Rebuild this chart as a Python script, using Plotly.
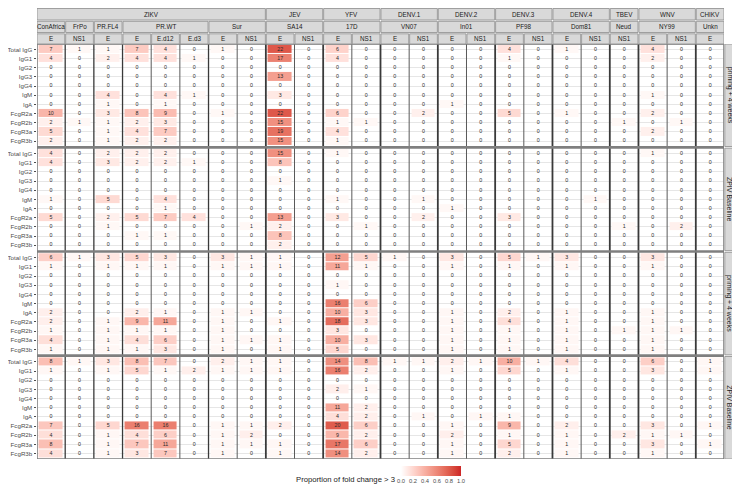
import plotly.graph_objects as go

# ---- data -------------------------------------------------------------
antibodies = ["Total IgG", "IgG1", "IgG2", "IgG3", "IgG4", "IgM", "IgA",
              "FcgR2a", "FcgR2b", "FcgR3a", "FcgR3b"]

virus = ["ZIKV"] * 8 + ["JEV"] * 2 + ["YFV"] * 2 + ["DENV.1"] * 2 + ["DENV.2"] * 2 + \
        ["DENV.3"] * 2 + ["DENV.4"] * 2 + ["TBEV"] + ["WNV"] * 2 + ["CHIKV"]
strain = ["ConAfrica", "FrPo", "PR.FL4", "PR.WT", "PR.WT", "PR.WT", "Sur", "Sur",
          "SA14", "SA14", "17D", "17D", "VN07", "VN07", "In01", "In01",
          "PF98", "PF98", "Dom81", "Dom81", "Neud", "NY99", "NY99", "Unkn"]
antigen = ["E", "NS1", "E", "E", "E.d12", "E.d3", "E", "NS1",
           "E", "NS1", "E", "NS1", "E", "NS1", "E", "NS1",
           "E", "NS1", "E", "NS1", "NS1", "E", "NS1", "E"]

groups = ["JEV-Primed", "YFV-Primed"]
timepoints = ["priming + 4 weeks", "ZPIV Baseline", "priming + 4 weeks", "ZPIV Baseline"]
group_size = [27, 27, 25, 25]   # animals per panel (colour = count / size)

# counts of fold change > 3 (rows = antibodies, cols = antigens)
jev_week4 = [
    [7, 1, 1, 7, 4, 0, 1, 0, 22, 0, 6, 0, 0, 0, 0, 0, 4, 0, 1, 0, 0, 4, 0, 0],
    [4, 0, 2, 4, 4, 1, 0, 0, 17, 0, 4, 0, 0, 0, 0, 0, 1, 0, 0, 0, 0, 2, 0, 0],
    [0, 0, 0, 0, 0, 0, 0, 0, 0, 0, 0, 0, 0, 0, 0, 0, 0, 0, 0, 0, 0, 0, 0, 0],
    [0, 0, 0, 0, 0, 0, 0, 0, 13, 0, 0, 0, 0, 0, 0, 0, 0, 0, 0, 0, 0, 0, 0, 0],
    [0, 0, 0, 0, 0, 0, 0, 0, 0, 0, 0, 0, 0, 0, 0, 0, 0, 0, 0, 0, 0, 0, 0, 0],
    [0, 0, 4, 0, 4, 1, 0, 0, 3, 0, 0, 0, 0, 0, 0, 0, 0, 0, 0, 0, 0, 1, 0, 0],
    [0, 0, 1, 0, 1, 0, 0, 0, 0, 0, 0, 0, 0, 0, 1, 0, 0, 0, 0, 0, 0, 0, 0, 0],
    [10, 0, 3, 8, 9, 0, 1, 0, 22, 0, 6, 0, 0, 2, 0, 0, 5, 0, 1, 0, 0, 2, 0, 0],
    [2, 1, 1, 2, 3, 0, 0, 0, 15, 0, 1, 1, 0, 0, 0, 0, 0, 0, 0, 0, 1, 0, 1, 0],
    [5, 0, 1, 4, 7, 0, 0, 0, 19, 0, 4, 0, 0, 0, 0, 0, 0, 0, 0, 0, 0, 2, 0, 0],
    [2, 0, 1, 2, 2, 0, 0, 0, 15, 0, 1, 0, 0, 0, 0, 0, 0, 0, 0, 0, 0, 0, 0, 0],
]
jev_baseline = [
    [4, 0, 2, 2, 2, 0, 0, 0, 15, 0, 1, 0, 0, 0, 0, 0, 0, 0, 0, 0, 0, 1, 0, 0],
    [4, 0, 3, 2, 2, 1, 0, 0, 8, 0, 0, 0, 0, 0, 0, 0, 0, 0, 0, 0, 0, 0, 0, 0],
    [0, 0, 0, 0, 0, 0, 0, 0, 0, 0, 0, 0, 0, 0, 0, 0, 0, 0, 0, 0, 0, 0, 0, 0],
    [0, 0, 0, 0, 0, 0, 0, 0, 1, 0, 0, 0, 0, 0, 0, 0, 0, 0, 0, 0, 0, 0, 0, 0],
    [0, 0, 0, 0, 0, 0, 0, 0, 0, 0, 0, 0, 0, 0, 0, 0, 0, 0, 0, 0, 0, 0, 0, 0],
    [1, 0, 5, 0, 4, 0, 0, 0, 0, 0, 1, 0, 0, 1, 0, 0, 0, 0, 0, 1, 0, 0, 0, 0],
    [0, 0, 0, 0, 1, 0, 0, 0, 0, 0, 0, 0, 0, 0, 1, 0, 0, 0, 0, 0, 0, 0, 0, 0],
    [5, 0, 2, 5, 7, 4, 0, 0, 13, 0, 3, 0, 0, 2, 0, 0, 3, 0, 0, 0, 0, 0, 0, 0],
    [0, 0, 1, 0, 0, 0, 0, 1, 2, 0, 0, 1, 0, 0, 0, 0, 0, 0, 0, 0, 1, 0, 2, 0],
    [0, 0, 0, 1, 1, 0, 0, 0, 8, 0, 0, 0, 0, 0, 0, 0, 0, 0, 0, 0, 0, 0, 0, 0],
    [0, 0, 0, 0, 0, 0, 0, 0, 2, 0, 0, 0, 0, 0, 0, 0, 0, 0, 0, 0, 0, 0, 0, 0],
]
yfv_week4 = [
    [6, 1, 3, 5, 3, 0, 3, 1, 1, 0, 12, 5, 1, 0, 3, 0, 5, 1, 3, 0, 0, 3, 0, 0],
    [1, 0, 1, 1, 1, 0, 1, 1, 1, 0, 11, 1, 0, 0, 1, 0, 1, 0, 1, 0, 0, 1, 0, 0],
    [0, 0, 0, 0, 0, 0, 0, 0, 0, 0, 0, 0, 0, 0, 0, 0, 0, 0, 0, 0, 0, 0, 0, 0],
    [0, 0, 0, 0, 0, 0, 0, 0, 0, 0, 1, 0, 0, 0, 0, 0, 0, 0, 0, 0, 0, 0, 0, 0],
    [0, 0, 0, 0, 0, 0, 0, 0, 0, 0, 0, 0, 0, 0, 0, 0, 0, 0, 0, 0, 0, 0, 0, 0],
    [0, 0, 0, 0, 0, 0, 0, 0, 0, 0, 16, 6, 0, 0, 0, 0, 0, 0, 0, 0, 0, 0, 0, 0],
    [2, 0, 0, 2, 1, 0, 1, 1, 0, 0, 10, 3, 0, 0, 1, 0, 2, 0, 1, 0, 0, 1, 0, 0],
    [2, 0, 1, 9, 11, 0, 1, 0, 1, 0, 18, 3, 0, 0, 1, 0, 4, 0, 1, 0, 0, 1, 0, 0],
    [1, 0, 1, 1, 1, 0, 1, 0, 0, 0, 3, 0, 0, 0, 1, 0, 1, 0, 1, 0, 1, 1, 1, 0],
    [4, 0, 1, 4, 6, 0, 1, 1, 1, 0, 10, 3, 0, 0, 1, 0, 1, 0, 1, 0, 0, 1, 0, 0],
    [1, 0, 1, 1, 3, 0, 1, 0, 1, 0, 5, 0, 0, 0, 1, 0, 1, 0, 1, 0, 0, 1, 0, 0],
]
yfv_baseline = [
    [8, 1, 3, 8, 7, 0, 2, 1, 1, 0, 14, 8, 1, 1, 2, 1, 10, 1, 4, 0, 0, 6, 0, 1],
    [1, 0, 1, 5, 1, 2, 1, 1, 1, 0, 16, 2, 0, 0, 1, 0, 5, 0, 1, 0, 0, 3, 0, 1],
    [0, 0, 0, 0, 0, 0, 0, 0, 0, 0, 0, 0, 0, 0, 0, 0, 0, 0, 0, 0, 0, 0, 0, 0],
    [0, 0, 0, 0, 0, 0, 0, 0, 0, 0, 2, 1, 0, 0, 0, 0, 0, 0, 0, 0, 0, 0, 0, 0],
    [0, 0, 0, 0, 0, 0, 0, 0, 0, 0, 0, 0, 0, 0, 0, 0, 0, 0, 0, 0, 0, 0, 0, 0],
    [0, 0, 0, 0, 0, 0, 0, 0, 0, 0, 11, 2, 0, 0, 0, 0, 0, 0, 0, 0, 0, 0, 0, 0],
    [0, 0, 0, 0, 0, 0, 0, 0, 0, 0, 4, 2, 0, 1, 0, 1, 1, 0, 0, 0, 0, 0, 0, 0],
    [7, 0, 5, 16, 16, 0, 1, 1, 2, 0, 20, 6, 0, 0, 1, 0, 9, 0, 2, 0, 0, 3, 0, 1],
    [4, 0, 1, 4, 6, 0, 1, 2, 0, 0, 9, 2, 0, 0, 2, 0, 1, 0, 1, 0, 2, 1, 1, 0],
    [8, 0, 1, 7, 11, 0, 1, 1, 1, 0, 17, 6, 0, 0, 1, 0, 5, 0, 1, 0, 0, 3, 0, 1],
    [4, 0, 1, 3, 7, 0, 1, 0, 1, 0, 14, 2, 0, 0, 1, 0, 2, 0, 1, 0, 0, 1, 0, 0],
]
panels = [jev_week4, jev_baseline, yfv_week4, yfv_baseline]

# ---- geometry / style ---------------------------------------------------
P = 1.24      # column pitch (panel = 1.2 wide)
Q = 11.38     # row-group pitch (panel = 11.2 tall)
FONT = "Liberation Sans, Arial, sans-serif"
L, R, T, B = 29, 24, 36, 35
W, H = 740, 486
PW, PH = W - L - R, H - T - B


def px_x(px):
    return (px - L) / PW


def px_y(px):
    return (H - B - px) / PH


def lab_scale(hi, n=11):
    # white -> hi interpolated in Lab, like ggplot's gradient
    def to_lin(c):
        c = c / 255
        return c / 12.92 if c <= 0.04045 else ((c + 0.055) / 1.055) ** 2.4

    def to_srgb(c):
        c = max(0, min(1, c))
        c = 12.92 * c if c <= 0.0031308 else 1.055 * c ** (1 / 2.4) - 0.055
        return round(c * 255)

    def f(t):
        return t ** (1 / 3) if t > 0.008856 else 7.787 * t + 16 / 116

    def finv(t):
        return t ** 3 if t > 0.2069 else (t - 16 / 116) / 7.787

    r, g, b = [to_lin(int(hi[i:i + 2], 16)) for i in (1, 3, 5)]
    X = (0.4124 * r + 0.3576 * g + 0.1805 * b) / 0.9505
    Y = 0.2126 * r + 0.7152 * g + 0.0722 * b
    Z = (0.0193 * r + 0.1192 * g + 0.9505 * b) / 1.089
    Lh, ah, bh = 116 * f(Y) - 16, 500 * (f(X) - f(Y)), 200 * (f(Y) - f(Z))
    out = []
    for i in range(n):
        t = i / (n - 1)
        Ll, aa, bb = 100 + (Lh - 100) * t, ah * t, bh * t
        fy = (Ll + 16) / 116
        x, y, z = 0.9505 * finv(fy + aa / 500), finv(fy), 1.089 * finv(fy - bb / 200)
        rr = 3.2406 * x - 1.5372 * y - 0.4986 * z
        gg = -0.9689 * x + 1.8758 * y + 0.0415 * z
        bl = 0.0557 * x - 0.2040 * y + 1.0570 * z
        out.append([t, "rgb(%d,%d,%d)" % (to_srgb(rr), to_srgb(gg), to_srgb(bl))])
    return out


fig = go.Figure()
xs = [c * P for c in range(len(antigen))]
tickvals, ticktext = [], []
for g, counts in enumerate(panels):
    ys = [g * Q + r for r in range(len(antibodies))]
    tickvals += ys
    ticktext += antibodies
    z = [[v / group_size[g] if v > 0 else None for v in row] for row in counts]
    fig.add_trace(go.Heatmap(x=xs, y=ys, z=z, coloraxis="coloraxis",
                             xgap=5, ygap=1, hoverinfo="skip"))
    tx, ty, tt = [], [], []
    for r, row in enumerate(counts):
        for c, v in enumerate(row):
            tx.append(xs[c])
            ty.append(ys[r])
            tt.append(str(v))
    fig.add_trace(go.Scatter(x=tx, y=ty, text=tt, mode="text",
                             textfont=dict(size=5.3, color="#2b2b2b", family=FONT),
                             hoverinfo="skip", showlegend=False))

shapes, annots = [], []
y_top, y_bot = -0.6, 3 * Q + 10.6
x_lo, x_hi = -0.6, (len(antigen) - 1) * P + 0.6

# vertical panel separators
for c in range(len(antigen) - 1):
    xb = c * P + P / 2
    if virus[c] != virus[c + 1]:
        w, col = 1.8, "#3a3a3a"
    elif strain[c] != strain[c + 1]:
        w, col = 1.3, "#3a3a3a"
    else:
        w, col = 1.0, "#5a5a5a"
    shapes.append(dict(type="line", xref="x", yref="y", x0=xb, x1=xb, y0=y_top, y1=y_bot,
                       line=dict(color=col, width=w), layer="above"))
# horizontal group separators
for g in range(3):
    yb = g * Q + 10.6 + (Q - 11.2) / 2
    shapes.append(dict(type="line", xref="x", yref="y", x0=x_lo, x1=x_hi, y0=yb, y1=yb,
                       line=dict(color="#7f7f7f", width=2.6), layer="above"))
shapes.append(dict(type="rect", xref="x", yref="y", x0=x_lo, x1=x_hi, y0=y_top, y1=y_bot,
                   line=dict(color="#7f7f7f", width=1.6), layer="above"))


def spans(keys):
    out, start = [], 0
    for i in range(1, len(keys) + 1):
        if i == len(keys) or keys[i] != keys[start]:
            out.append((start, i - 1))
            start = i
    return out


strip_rows = [
    ([(v,) for v in virus], virus, (0.5, 12.0)),
    (list(zip(virus, strain)), strain, (13.3, 24.5)),
    (list(range(len(antigen))), antigen, (25.8, 36.0)),
]
for keys, labels, (p0, p1) in strip_rows:
    for s, e in spans(keys):
        shapes.append(dict(type="rect", xref="x", yref="paper",
                           x0=s * P - 0.6, x1=e * P + 0.6, y0=px_y(p1), y1=px_y(p0),
                           fillcolor="#d9d9d9", line=dict(color="#8c8c8c", width=0.8)))
        annots.append(dict(xref="x", yref="paper", x=(s + e) * P / 2, y=px_y((p0 + p1) / 2),
                           yanchor="middle", text=labels[s], showarrow=False,
                           font=dict(size=6.3, color="#1a1a1a", family=FONT)))

# right strips: timepoint (inner) and group (outer)
for g, tp in enumerate(timepoints):
    y0, y1 = g * Q - 0.6, g * Q + 10.6
    shapes.append(dict(type="rect", xref="paper", yref="y", x0=px_x(716.8), x1=px_x(726.2),
                       y0=y0, y1=y1, fillcolor="#d9d9d9", line=dict(color="#8c8c8c", width=0.8)))
    annots.append(dict(xref="paper", yref="y", x=px_x(721.5), y=(y0 + y1) / 2, text=tp,
                       xanchor="center", textangle=90, showarrow=False,
                       font=dict(size=7, color="#1a1a1a", family=FONT)))
for k, grp in enumerate(groups):
    y0, y1 = 2 * k * Q - 0.6, (2 * k + 1) * Q + 10.6
    shapes.append(dict(type="rect", xref="paper", yref="y", x0=px_x(727.6), x1=px_x(739.6),
                       y0=y0, y1=y1, fillcolor="#d9d9d9", line=dict(color="#8c8c8c", width=0.8)))
    annots.append(dict(xref="paper", yref="y", x=px_x(733.6), y=(y0 + y1) / 2, text=grp,
                       xanchor="center", textangle=90, showarrow=False,
                       font=dict(size=7, color="#1a1a1a", family=FONT)))

annots.append(dict(xref="paper", yref="paper", x=px_x(389), y=px_y(471), xanchor="right",
                   yanchor="middle", text="Proportion of fold change > 3", showarrow=False,
                   font=dict(size=7.7, color="#1a1a1a", family=FONT)))

fig.update_layout(
    width=W, height=H,
    margin=dict(l=L, r=R, t=T, b=B, autoexpand=False),
    plot_bgcolor="white", paper_bgcolor="white",
    font=dict(family=FONT),
    showlegend=False,
    shapes=shapes, annotations=annots,
    coloraxis=dict(
        colorscale=lab_scale("#cd2626"), cmin=0, cmax=1,
        colorbar=dict(orientation="h", x=px_x(423), xanchor="center",
                      y=px_y(458), yanchor="top", len=60, lenmode="pixels",
                      thickness=10, outlinewidth=0, ticks="",
                      tickvals=[0, 0.2, 0.4, 0.6, 0.8, 1.0],
                      ticktext=["0.0", "0.2", "0.4", "0.6", "0.8", "1.0"],
                      tickfont=dict(size=5.8, color="#4d4d4d", family=FONT),
                      ypad=0, xpad=0),
    ),
    xaxis=dict(range=[x_lo, x_hi], showticklabels=False, showgrid=False, zeroline=False,
               fixedrange=True, automargin=False),
    yaxis=dict(range=[y_bot, y_top], tickvals=tickvals, ticktext=ticktext,
               showgrid=True, gridcolor="#e6e6e6", gridwidth=0.6, zeroline=False,
               ticks="outside", ticklen=2.5, tickcolor="#4d4d4d", tickwidth=0.8,
               tickfont=dict(size=6.2, color="#4d4d4d", family=FONT), fixedrange=True,
               automargin=False),
)

fig.write_html("out.html")
